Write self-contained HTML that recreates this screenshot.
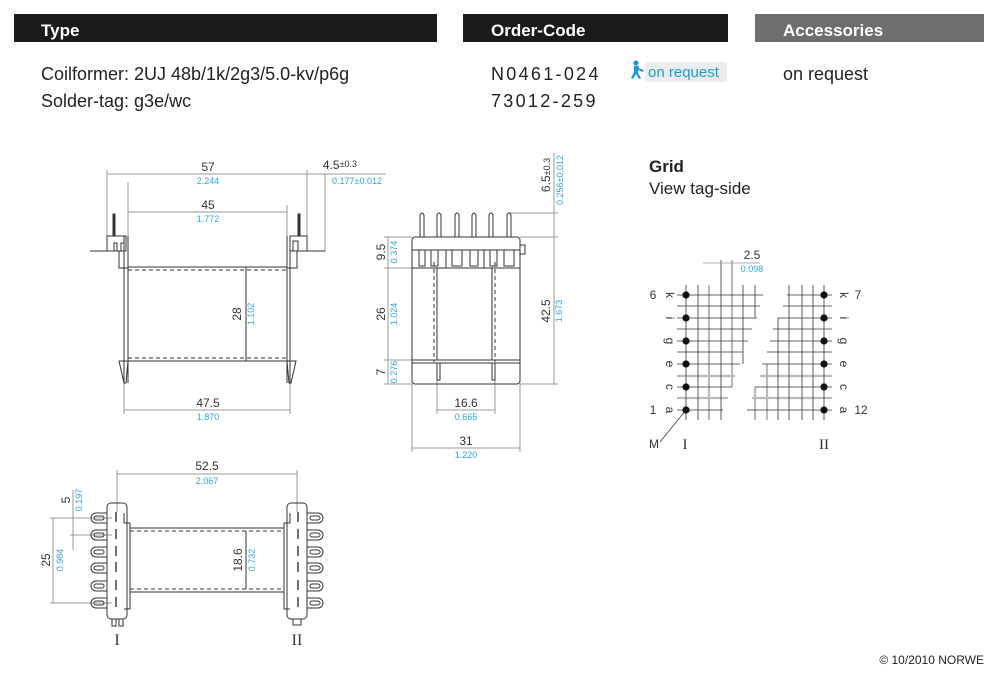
<!DOCTYPE html>
<html><head><meta charset="utf-8"><style>
html,body{margin:0;padding:0;background:#fff;}
svg{display:block;}
text{font-family:"Liberation Sans",sans-serif;}
</style></head><body>
<svg width="1000" height="678" viewBox="0 0 1000 678" xmlns="http://www.w3.org/2000/svg">
<!-- Headers -->
<rect x="14" y="14" width="423" height="28" fill="#1a1a1a"/>
<rect x="463" y="14" width="265" height="28" fill="#1a1a1a"/>
<rect x="755" y="14" width="229" height="28" fill="#6e6e6e"/>
<text x="41" y="36" font-size="17" font-weight="bold" fill="#fff">Type</text>
<text x="491" y="36" font-size="17" font-weight="bold" fill="#fff">Order-Code</text>
<text x="783" y="36" font-size="17" font-weight="bold" fill="#fff">Accessories</text>

<text x="41" y="80" font-size="18" fill="#222">Coilformer: 2UJ 48b/1k/2g3/5.0-kv/p6g</text>
<text x="41" y="107" font-size="18" fill="#222">Solder-tag: g3e/wc</text>
<text x="491" y="80" font-size="18" fill="#222" letter-spacing="2.3">N0461-024</text>
<text x="491" y="107" font-size="18" fill="#222" letter-spacing="2.3">73012-259</text>
<rect x="645" y="62" width="82" height="20" fill="#e9edf0"/>
<g fill="#1c9ad6">
<circle cx="636" cy="63" r="2.6"/>
<path d="M634 66 L639 66 L638 73 L641 78 L639 79 L636 74 L633 79 L631 78 L634 72 Z"/>
<path d="M638 68 L644 70 L643 72 L638 70Z"/>
</g>
<text x="648" y="77" font-size="15" fill="#1c9ad6">on request</text>
<text x="783" y="80" font-size="18" fill="#222">on request</text>

<text x="649" y="172" font-size="17" font-weight="bold" fill="#222">Grid</text>
<text x="649" y="194" font-size="17" fill="#222">View tag-side</text>

<text x="984" y="664" font-size="12" fill="#222" text-anchor="end">© 10/2010 NORWE</text>

<!-- Drawing 1 -->
<g stroke="#333" stroke-width="1" fill="none">
<g stroke="#999">
<line x1="107" y1="174" x2="386" y2="174"/>
<line x1="107" y1="170" x2="107" y2="236"/>
<line x1="307" y1="170" x2="307" y2="250"/>
<line x1="325" y1="174" x2="325" y2="252"/>
<line x1="128" y1="212" x2="287" y2="212"/>
<line x1="128" y1="182" x2="128" y2="268"/>
<line x1="287" y1="205" x2="287" y2="236"/>
<line x1="124" y1="383" x2="124" y2="414"/>
<line x1="290" y1="383" x2="290" y2="414"/>
<line x1="124" y1="410" x2="290" y2="410"/>
</g>
<line x1="246" y1="267" x2="246" y2="361"/>
<line x1="90" y1="251" x2="117" y2="251"/>
<rect x="107" y="236" width="19" height="15"/>
<rect x="113" y="214" width="2" height="22" fill="#333"/>
<rect x="114" y="243" width="3" height="8"/>
<rect x="121" y="243" width="3" height="8"/>
<path d="M119 251 V268 H128"/>
<line x1="124" y1="236" x2="124" y2="383"/>
<line x1="128" y1="236" x2="128" y2="383"/>
<path d="M119 361 H128 L126 383 L124 383 Z"/>
<line x1="297" y1="251" x2="325" y2="251"/>
<rect x="290" y="236" width="17" height="15"/>
<rect x="298" y="214" width="2" height="22" fill="#333"/>
<rect x="293" y="241" width="5" height="10"/>
<path d="M297 251 V268 H287"/>
<line x1="287" y1="236" x2="287" y2="383"/>
<line x1="290" y1="240" x2="290" y2="383"/>
<path d="M296 361 H287 L289 383 L291 383 Z"/>
<line x1="128" y1="267" x2="287" y2="267"/>
<line x1="128" y1="270" x2="287" y2="270" stroke-dasharray="4,3"/>
<line x1="128" y1="358" x2="287" y2="358" stroke-dasharray="4,3"/>
<line x1="128" y1="361" x2="287" y2="361"/>
</g>
<g font-size="12" text-anchor="middle">
<text x="208" y="171" fill="#333">57</text>
<text x="208" y="184" font-size="9" fill="#2aa6dd">2.244</text>
<text x="340" y="169" fill="#333">4.5<tspan font-size="9" dy="-2">±0.3</tspan></text>
<text x="357" y="184" font-size="9" fill="#2aa6dd">0.177±0.012</text>
<text x="208" y="209" fill="#333">45</text>
<text x="208" y="222" font-size="9" fill="#2aa6dd">1.772</text>
<text x="208" y="407" fill="#333">47.5</text>
<text x="208" y="420" font-size="9" fill="#2aa6dd">1.870</text>
<text transform="translate(241,314) rotate(-90)" fill="#333">28</text>
<text transform="translate(254,314) rotate(-90)" font-size="9" fill="#2aa6dd">1.102</text>
</g>

<!-- Drawing 2 -->
<g stroke="#333" stroke-width="1" fill="none">
<g stroke="#999">
<line x1="384" y1="237" x2="412" y2="237"/>
<line x1="384" y1="268" x2="412" y2="268"/>
<line x1="384" y1="360" x2="412" y2="360"/>
<line x1="384" y1="384" x2="412" y2="384"/>
<line x1="388" y1="237" x2="388" y2="384"/>
<line x1="520" y1="237" x2="558" y2="237"/>
<line x1="520" y1="384" x2="558" y2="384"/>
<line x1="509" y1="213" x2="558" y2="213"/>
<line x1="554" y1="153" x2="554" y2="384"/>
<line x1="412" y1="384" x2="412" y2="452"/>
<line x1="520" y1="384" x2="520" y2="452"/>
<line x1="412" y1="448" x2="520" y2="448"/>
<line x1="437" y1="380" x2="437" y2="414"/>
<line x1="495" y1="380" x2="495" y2="414"/>
<line x1="437" y1="410" x2="495" y2="410"/>
</g>
<rect x="412" y="237" width="108" height="147" rx="3"/>
<line x1="412" y1="250" x2="520" y2="250"/>
<line x1="412" y1="268" x2="520" y2="268"/>
<line x1="412" y1="360" x2="520" y2="360"/>
<line x1="412" y1="363" x2="520" y2="363"/>
<rect x="520" y="245" width="5" height="9"/>
<g>
<path d="M420 237 V215 Q422 211 424 215 V237"/>
<path d="M437 237 V215 Q439 211 441 215 V237"/>
<path d="M455 237 V215 Q457 211 459 215 V237"/>
<path d="M472 237 V215 Q474 211 476 215 V237"/>
<path d="M489 237 V215 Q491 211 493 215 V237"/>
<path d="M507 237 V215 Q509 211 511 215 V237"/>
</g>
<g>
<path d="M419 250 V266 H425 V250"/>
<path d="M431 250 V266 H438 V250"/>
<path d="M452 250 V266 H462 V250"/>
<path d="M470 250 V266 H478 V250"/>
<path d="M490 250 V266 H497 V250"/>
<path d="M504 250 V266 H514 V250"/>
<line x1="446" y1="250" x2="446" y2="268"/>
<line x1="484" y1="250" x2="484" y2="268"/>
</g>
<line x1="434" y1="262" x2="434" y2="362" stroke-dasharray="4,3"/>
<line x1="495" y1="262" x2="495" y2="362" stroke-dasharray="4,3"/>
<line x1="437" y1="268" x2="437" y2="360"/>
<line x1="492" y1="268" x2="492" y2="360"/>
<rect x="437" y="363" width="3" height="17"/>
<rect x="492" y="363" width="3" height="17"/>
</g>
<g font-size="12" text-anchor="middle">
<text transform="translate(385,252) rotate(-90)" fill="#333">9.5</text>
<text transform="translate(397,252) rotate(-90)" font-size="9" fill="#2aa6dd">0.374</text>
<text transform="translate(385,314) rotate(-90)" fill="#333">26</text>
<text transform="translate(397,314) rotate(-90)" font-size="9" fill="#2aa6dd">1.024</text>
<text transform="translate(385,372) rotate(-90)" fill="#333">7</text>
<text transform="translate(397,372) rotate(-90)" font-size="9" fill="#2aa6dd">0.276</text>
<text transform="translate(550,311) rotate(-90)" fill="#333">42.5</text>
<text transform="translate(562,311) rotate(-90)" font-size="9" fill="#2aa6dd">1.673</text>
<text transform="translate(550,175) rotate(-90)" fill="#333">6.5<tspan font-size="9">±0.3</tspan></text>
<text transform="translate(563,180) rotate(-90)" font-size="9" fill="#2aa6dd">0.256±0.012</text>
<text x="466" y="407" fill="#333">16.6</text>
<text x="466" y="420" font-size="9" fill="#2aa6dd">0.665</text>
<text x="466" y="445" fill="#333">31</text>
<text x="466" y="458" font-size="9" fill="#2aa6dd">1.220</text>
</g>

<!-- Grid -->
<g stroke="#333" stroke-width="0.8">
<g stroke="#bbb" stroke-width="2.2">
<line x1="709" y1="285" x2="709" y2="420"/>
<line x1="732" y1="260" x2="732" y2="387"/>
<line x1="677" y1="376" x2="735" y2="376"/>
<line x1="677" y1="398" x2="728" y2="398"/>
<line x1="755" y1="387" x2="755" y2="420"/>
<line x1="767" y1="364" x2="767" y2="420"/>
<line x1="760" y1="376" x2="832" y2="376"/>
<line x1="752" y1="398" x2="832" y2="398"/>
</g>
<line x1="677" y1="295" x2="763" y2="295"/>
<line x1="677" y1="306" x2="760" y2="306"/>
<line x1="677" y1="318" x2="757" y2="318"/>
<line x1="677" y1="329" x2="752" y2="329"/>
<line x1="677" y1="341" x2="748" y2="341"/>
<line x1="677" y1="352" x2="743" y2="352"/>
<line x1="677" y1="364" x2="740" y2="364"/>
<line x1="677" y1="387" x2="732" y2="387"/>
<line x1="677" y1="410" x2="723" y2="410"/>
<line x1="686" y1="285" x2="686" y2="420"/>
<line x1="698" y1="285" x2="698" y2="420"/>
<line x1="721" y1="260" x2="721" y2="420"/>
<line x1="743" y1="285" x2="743" y2="364"/>
<line x1="755" y1="285" x2="755" y2="318"/>
<line x1="703" y1="263" x2="760" y2="263" stroke="#999"/>
<line x1="787" y1="295" x2="832" y2="295"/>
<line x1="783" y1="306" x2="832" y2="306"/>
<line x1="778" y1="318" x2="832" y2="318"/>
<line x1="773" y1="329" x2="832" y2="329"/>
<line x1="770" y1="341" x2="832" y2="341"/>
<line x1="767" y1="352" x2="832" y2="352"/>
<line x1="762" y1="364" x2="832" y2="364"/>
<line x1="755" y1="387" x2="832" y2="387"/>
<line x1="747" y1="410" x2="832" y2="410"/>
<line x1="789" y1="285" x2="789" y2="420"/>
<line x1="802" y1="285" x2="802" y2="420"/>
<line x1="813" y1="285" x2="813" y2="420"/>
<line x1="824" y1="285" x2="824" y2="420"/>
<line x1="778" y1="318" x2="778" y2="420"/>
<line x1="660" y1="442" x2="686" y2="410"/>
</g>
<g fill="#111">
<circle cx="686" cy="295" r="3.6"/><circle cx="686" cy="318" r="3.6"/><circle cx="686" cy="341" r="3.6"/>
<circle cx="686" cy="364" r="3.6"/><circle cx="686" cy="387" r="3.6"/><circle cx="686" cy="410" r="3.6"/>
<circle cx="824" cy="295" r="3.6"/><circle cx="824" cy="318" r="3.6"/><circle cx="824" cy="341" r="3.6"/>
<circle cx="824" cy="364" r="3.6"/><circle cx="824" cy="387" r="3.6"/><circle cx="824" cy="410" r="3.6"/>
</g>
<g font-size="12" fill="#333" text-anchor="middle">
<text x="752" y="259">2.5</text>
<text x="752" y="272" font-size="9" fill="#2aa6dd">0.098</text>
<text x="653" y="299">6</text>
<text x="653" y="414">1</text>
<text x="858" y="299">7</text>
<text x="861" y="414">12</text>
<text x="654" y="448">M</text>
<text x="685" y="449" style="font-family:'Liberation Serif',serif;font-size:15px">I</text>
<text x="824" y="449" style="font-family:'Liberation Serif',serif;font-size:15px">II</text>
<text transform="translate(666,295) rotate(90)">k</text>
<text transform="translate(666,318) rotate(90)">i</text>
<text transform="translate(666,341) rotate(90)">g</text>
<text transform="translate(666,364) rotate(90)">e</text>
<text transform="translate(666,387) rotate(90)">c</text>
<text transform="translate(666,410) rotate(90)">a</text>
<text transform="translate(840,295) rotate(90)">k</text>
<text transform="translate(840,318) rotate(90)">i</text>
<text transform="translate(840,341) rotate(90)">g</text>
<text transform="translate(840,364) rotate(90)">e</text>
<text transform="translate(840,387) rotate(90)">c</text>
<text transform="translate(840,410) rotate(90)">a</text>
</g>

<!-- Drawing 4 -->
<g stroke="#333" stroke-width="1" fill="none">
<g stroke="#999">
<line x1="117" y1="470" x2="117" y2="512"/>
<line x1="297" y1="470" x2="297" y2="512"/>
<line x1="117" y1="474" x2="297" y2="474"/>
<line x1="50" y1="518" x2="112" y2="518"/>
<line x1="50" y1="603" x2="112" y2="603"/>
<line x1="53" y1="518" x2="53" y2="603"/>
<line x1="70" y1="535" x2="112" y2="535"/>
<line x1="73" y1="490" x2="73" y2="550"/>
</g>
<rect x="107" y="503" width="20" height="116" rx="4"/>
<rect x="287" y="503" width="20" height="116" rx="4"/>
<path d="M124 513 V523 H130 V609 H124"/>
<path d="M290 513 V523 H284 V609 H290"/>
<line x1="130" y1="528" x2="284" y2="528"/>
<line x1="130" y1="531" x2="284" y2="531" stroke-dasharray="4,3"/>
<line x1="130" y1="589" x2="284" y2="589" stroke-dasharray="4,3"/>
<line x1="130" y1="592" x2="284" y2="592"/>
<line x1="246" y1="531" x2="246" y2="589"/>
<g>
<path d="M107 513 H96 A5 5 0 0 0 96 523 H107"/><rect x="94" y="516" width="10" height="4" rx="2"/>
<path d="M107 530 H96 A5 5 0 0 0 96 540 H107"/><rect x="94" y="533" width="10" height="4" rx="2"/>
<path d="M107 547 H96 A5 5 0 0 0 96 557 H107"/><rect x="94" y="550" width="10" height="4" rx="2"/>
<path d="M107 563 H96 A5 5 0 0 0 96 573 H107"/><rect x="94" y="566" width="10" height="4" rx="2"/>
<path d="M107 581 H96 A5 5 0 0 0 96 591 H107"/><rect x="94" y="584" width="10" height="4" rx="2"/>
<path d="M107 598 H96 A5 5 0 0 0 96 608 H107"/><rect x="94" y="601" width="10" height="4" rx="2"/>
<path d="M307 513 H318 A5 5 0 0 1 318 523 H307"/><rect x="310" y="516" width="10" height="4" rx="2"/>
<path d="M307 530 H318 A5 5 0 0 1 318 540 H307"/><rect x="310" y="533" width="10" height="4" rx="2"/>
<path d="M307 547 H318 A5 5 0 0 1 318 557 H307"/><rect x="310" y="550" width="10" height="4" rx="2"/>
<path d="M307 563 H318 A5 5 0 0 1 318 573 H307"/><rect x="310" y="566" width="10" height="4" rx="2"/>
<path d="M307 581 H318 A5 5 0 0 1 318 591 H307"/><rect x="310" y="584" width="10" height="4" rx="2"/>
<path d="M307 598 H318 A5 5 0 0 1 318 608 H307"/><rect x="310" y="601" width="10" height="4" rx="2"/>
</g>
<g stroke-width="1.4">
<line x1="116" y1="512" x2="116" y2="522"/><line x1="116" y1="529" x2="116" y2="539"/>
<line x1="116" y1="546" x2="116" y2="556"/><line x1="116" y1="562" x2="116" y2="572"/>
<line x1="116" y1="580" x2="116" y2="590"/><line x1="116" y1="597" x2="116" y2="607"/>
<line x1="298" y1="512" x2="298" y2="522"/><line x1="298" y1="529" x2="298" y2="539"/>
<line x1="298" y1="546" x2="298" y2="556"/><line x1="298" y1="562" x2="298" y2="572"/>
<line x1="298" y1="580" x2="298" y2="590"/><line x1="298" y1="597" x2="298" y2="607"/>
</g>
<rect x="112" y="619" width="4" height="7"/><rect x="119" y="619" width="4" height="7"/>
<rect x="293" y="619" width="8" height="6"/>
</g>
<g font-size="12" text-anchor="middle">
<text x="207" y="470" fill="#333">52.5</text>
<text x="207" y="484" font-size="9" fill="#2aa6dd">2.067</text>
<text transform="translate(50,560) rotate(-90)" fill="#333">25</text>
<text transform="translate(63,560) rotate(-90)" font-size="9" fill="#2aa6dd">0.984</text>
<text transform="translate(70,500) rotate(-90)" fill="#333">5</text>
<text transform="translate(82,500) rotate(-90)" font-size="9" fill="#2aa6dd">0.197</text>
<text transform="translate(242,560) rotate(-90)" fill="#333">18.6</text>
<text transform="translate(255,560) rotate(-90)" font-size="9" fill="#2aa6dd">0.732</text>
<text x="117" y="645" style="font-family:'Liberation Serif',serif;font-size:16px" fill="#333">I</text>
<text x="297" y="645" style="font-family:'Liberation Serif',serif;font-size:16px" fill="#333">II</text>
</g>
</svg>
</body></html>
